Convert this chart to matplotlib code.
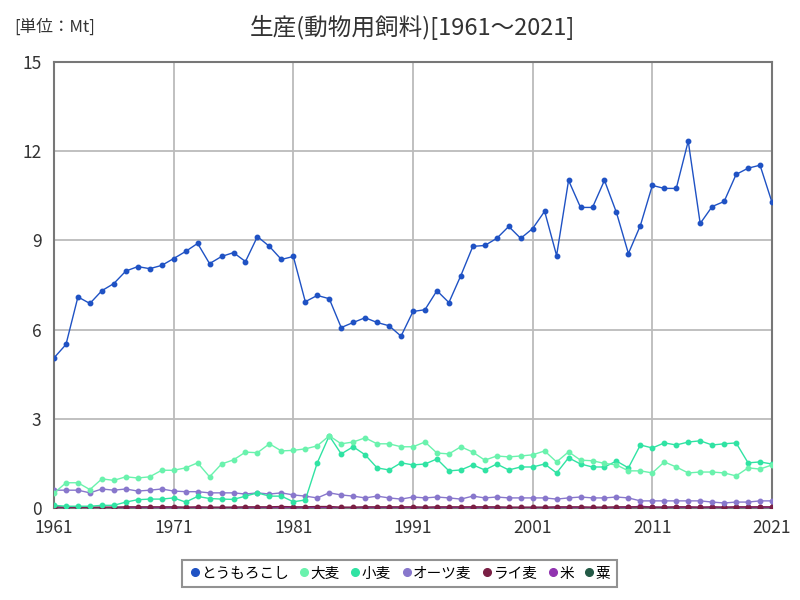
import matplotlib
matplotlib.use("Agg")
import matplotlib.pyplot as plt
from matplotlib.lines import Line2D

plt.rcParams['font.family'] = ['Noto Sans CJK JP', 'DejaVu Sans']

# データ（単位：Mt）
years = list(range(1961, 2022))

corn = [5.05, 5.5, 7.1, 6.88, 7.31, 7.55, 7.97, 8.12, 8.05, 8.16,
        8.39, 8.63, 8.9, 8.22, 8.46, 8.59, 8.29, 9.13, 8.8, 8.36,
        8.46, 6.94, 7.15, 7.04, 6.07, 6.24, 6.4, 6.24, 6.13, 5.78,
        6.61, 6.67, 7.31, 6.91, 7.82, 8.8, 8.83, 9.07, 9.47, 9.07,
        9.4, 9.98, 8.49, 11.02, 10.11, 10.11, 11.02, 9.94, 8.56, 9.5,
        10.85, 10.75, 10.75, 12.34, 9.57, 10.14, 10.31, 11.22, 11.43, 11.53,
        10.28]
barley = [0.5, 0.85, 0.85, 0.62, 0.98, 0.93, 1.05, 1.01, 1.05, 1.27,
          1.27, 1.35, 1.52, 1.05, 1.48, 1.62, 1.88, 1.86, 2.16, 1.92,
          1.94, 1.99, 2.09, 2.43, 2.16, 2.22, 2.36, 2.16, 2.16, 2.06,
          2.06, 2.22, 1.85, 1.82, 2.06, 1.88, 1.61, 1.75, 1.72, 1.75,
          1.79, 1.92, 1.55, 1.89, 1.61, 1.59, 1.5, 1.45, 1.25, 1.25,
          1.18, 1.55, 1.38, 1.18, 1.21, 1.21, 1.18, 1.08, 1.35, 1.31,
          1.45]
wheat = [0.09, 0.06, 0.06, 0.06, 0.09, 0.09, 0.2, 0.28, 0.3, 0.3,
         0.34, 0.2, 0.39, 0.32, 0.3, 0.29, 0.4, 0.51, 0.4, 0.4,
         0.21, 0.27, 1.52, 2.43, 1.82, 2.06, 1.79, 1.35, 1.28, 1.52,
         1.45, 1.48, 1.65, 1.25, 1.28, 1.45, 1.28, 1.48, 1.28, 1.38,
         1.38, 1.48, 1.18, 1.69, 1.48, 1.38, 1.38, 1.58, 1.35, 2.12,
         2.02, 2.19, 2.12, 2.22, 2.26, 2.12, 2.16, 2.19, 1.52, 1.55,
         1.48]
oats = [0.6, 0.6, 0.6, 0.51, 0.64, 0.6, 0.64, 0.57, 0.6, 0.64,
        0.57, 0.55, 0.55, 0.51, 0.51, 0.51, 0.47, 0.51, 0.47, 0.51,
        0.44, 0.4, 0.34, 0.51, 0.44, 0.4, 0.34, 0.4, 0.34, 0.3,
        0.37, 0.34, 0.37, 0.34, 0.3, 0.4, 0.34, 0.37, 0.34, 0.34,
        0.34, 0.34, 0.3, 0.34, 0.37, 0.34, 0.34, 0.37, 0.34, 0.24,
        0.24, 0.24, 0.24, 0.24, 0.24, 0.2, 0.17, 0.2, 0.2, 0.24,
        0.24]
rye = [0.04, 0.03, 0.03, 0.03, 0.03, 0.03, 0.04, 0.04, 0.04, 0.04,
       0.04, 0.03, 0.04, 0.03, 0.03, 0.03, 0.04, 0.04, 0.04, 0.05,
       0.04, 0.04, 0.05, 0.05, 0.03, 0.03, 0.04, 0.04, 0.04, 0.04,
       0.04, 0.03, 0.04, 0.04, 0.04, 0.04, 0.04, 0.04, 0.03, 0.03,
       0.03, 0.03, 0.04, 0.04, 0.04, 0.03, 0.03, 0.04, 0.04, 0.04,
       0.03, 0.03, 0.04, 0.04, 0.03, 0.04, 0.03, 0.04, 0.04, 0.04,
       0.04]
rice = [0.01, 0.01, 0.01, 0.01, 0.01, 0.01, 0.01, 0.01, 0.01, 0.01,
        0.01, 0.01, 0.01, 0.01, 0.01, 0.01, 0.01, 0.01, 0.01, 0.01,
        0.01, 0.01, 0.01, 0.01, 0.01, 0.01, 0.01, 0.01, 0.01, 0.01,
        0.01, 0.01, 0.01, 0.01, 0.01, 0.01, 0.01, 0.01, 0.01, 0.01,
        0.01, 0.01, 0.01, 0.01, 0.01, 0.01, 0.01, 0.01, 0.02, 0.06,
        0.03, 0.02, 0.02, 0.02, 0.02, 0.02, 0.02, 0.02, 0.02, 0.02,
        0.02]
millet = [0.0] * 61

names = ["とうもろこし", "大麦", "小麦", "オーツ麦", "ライ麦", "米", "粟"]
colors = ["#1f52c4", "#6af2ad", "#30e3a3", "#8877cc", "#7a1f44", "#9133b0", "#235a46"]
series = [corn, barley, wheat, oats, rye, rice, millet]

fig = plt.figure(figsize=(8, 6), dpi=100)
ax = fig.add_axes([0.0675, 0.1533, 0.8975, 0.7433])

# 下の系列から描く
for vals, c in reversed(list(zip(series, colors))):
    ax.plot(years, vals, color=c, lw=1, marker="o", ms=3.2, zorder=3)

ax.set_xlim(1961, 2021)
ax.set_ylim(0, 15)
ax.set_xticks(range(1961, 2022, 10))
ax.set_yticks(range(0, 16, 3))
ax.grid(True, color="#bbbbbb", lw=1.3)
ax.set_axisbelow(True)
for s in ax.spines.values():
    s.set_color("#777777")
    s.set_linewidth(1.5)
ax.tick_params(length=0, labelsize=12.5, colors="#333333")
ax.tick_params(axis="x", pad=8)
ax.tick_params(axis="y", pad=9)

fig.text(0.515, 0.955, "生産(動物用飼料)[1961～2021]", ha="center", va="center", fontsize=17, color="#333333")
fig.text(0.018, 0.955, "[単位：Mt]", ha="left", va="center", fontsize=12, color="#333333")

handles = [Line2D([], [], ls="none", marker="o", ms=5.5, color=c) for c in colors]
leg = fig.legend(handles, names, loc="center", bbox_to_anchor=(0.499, 0.044), ncol=7,
                 fontsize=10.5, frameon=True, fancybox=False, handletextpad=0.0,
                 columnspacing=0.6, borderpad=0.45, handlelength=0.9)
leg.get_frame().set_edgecolor("#777777")
leg.get_frame().set_linewidth(1.5)

fig.savefig("out.png", dpi=100)
